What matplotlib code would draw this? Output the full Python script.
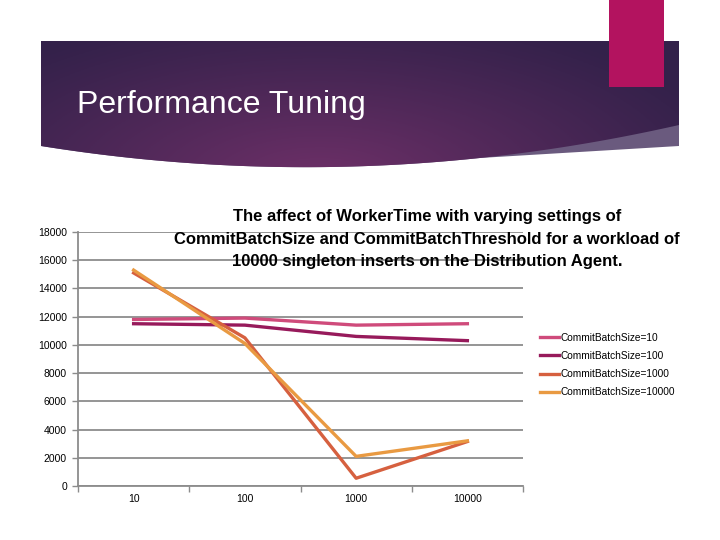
import numpy as np
import matplotlib
matplotlib.use("Agg")
import matplotlib.pyplot as plt
from matplotlib.patches import Polygon, Rectangle
from matplotlib.colors import to_rgb

plt.rcParams['font.family'] = ['Liberation Sans', 'DejaVu Sans']

# data
batch_threshold = ['10', '100', '1000', '10000']
size_10 = [11800, 11900, 11400, 11500]
size_100 = [11500, 11400, 10600, 10300]
size_1000 = [15100, 10500, 550, 3150]
size_10000 = [15300, 10100, 2100, 3200]
series_names = ['CommitBatchSize=10', 'CommitBatchSize=100',
                'CommitBatchSize=1000', 'CommitBatchSize=10000']
series_colors = ['#cf4b7b', '#971a5b', '#d6603f', '#e99a42']
y_ticks = list(range(0, 18001, 2000))

chart_title = ("The affect of WorkerTime with varying settings of\n"
               "CommitBatchSize and CommitBatchThreshold for a workload of\n"
               "10000 singleton inserts on the Distribution Agent.")

fig = plt.figure(figsize=(7.2, 5.4), dpi=100)

# slide background / header banner, in pixel coords
bg = fig.add_axes([0, 0, 1, 1])
bg.set_xlim(0, 720)
bg.set_ylim(540, 0)
bg.axis('off')

xs = np.linspace(41, 679, 120)
# lower edge of the dark banner: (41,146) -> (330,167) -> (679,125)
coef = np.polyfit([41, 330, 679], [146, 167, 125], 2)
dark_edge = np.polyval(coef, xs)
# lower edge of the lighter band on the right
band_edge = np.where(xs >= 330, 167 - 21 * (xs - 330) / (679 - 330), dark_edge)
band_edge = np.maximum(band_edge, dark_edge)

band = Polygon(list(zip(xs, band_edge)) + [(679, 41), (41, 41)],
               closed=True, facecolor='#6a5a7e', edgecolor='none', zorder=1)
bg.add_patch(band)

banner = Polygon([(41, 41), (679, 41)] + list(zip(xs[::-1], dark_edge[::-1])),
                 closed=True, facecolor='none', edgecolor='none')
bg.add_patch(banner)

gx, gy = np.meshgrid(np.linspace(41, 679, 320), np.linspace(41, 170, 70))
d = np.sqrt(((gx - 320) / 430) ** 2 + ((gy - 180) / 175) ** 2)
w = np.clip(1 - d, 0, 1) ** 1.1
c_in = np.array(to_rgb('#6e3068'))
c_out = np.array(to_rgb('#33214a'))
img = c_out + (c_in - c_out) * w[..., None]
im = bg.imshow(img, extent=(41, 679, 170, 41), aspect='auto', zorder=2)
im.set_clip_path(banner)

bg.add_patch(Rectangle((609, 0), 55, 87, facecolor='#b3135f',
                       edgecolor='none', zorder=3))
bg.text(77, 113, 'Performance Tuning', color='white', fontsize=23,
        va='baseline', ha='left', zorder=4)

# chart
ax = fig.add_axes([78 / 720, 1 - 486 / 540, (523 - 78) / 720, (486 - 232) / 540])
x = np.arange(len(batch_threshold))
for vals, name, col in zip([size_10, size_100, size_1000, size_10000],
                           series_names, series_colors):
    ax.plot(x, vals, color=col, lw=2.4, label=name)

ax.set_xlim(-0.5, len(batch_threshold) - 0.5)
ax.set_ylim(0, 18000)
ax.set_yticks(y_ticks)
ax.set_yticklabels([str(v) for v in y_ticks], fontsize=7.5)
ax.set_xticks(x)
ax.set_xticklabels(batch_threshold, fontsize=7.5)
ax.set_xticks(np.arange(len(batch_threshold) + 1) - 0.5, minor=True)
ax.tick_params(axis='x', which='major', length=0, pad=6)
ax.tick_params(axis='x', which='minor', length=4, color='#8c8c8c', width=1)
ax.tick_params(axis='y', length=4, color='#8c8c8c', width=1, pad=4)
ax.grid(axis='y', color='#8c8c8c', lw=1.3)
ax.set_axisbelow(True)
for s in ['top', 'right']:
    ax.spines[s].set_visible(False)
for s in ['left', 'bottom']:
    ax.spines[s].set_color('#8c8c8c')
    ax.spines[s].set_linewidth(1.3)

fig.text(427 / 720, 1 - 239 / 540, chart_title, ha='center', va='center',
         fontsize=12, fontweight='bold', linespacing=1.6)

fig.legend(loc='center left', bbox_to_anchor=(531 / 720, 1 - 365 / 540),
           frameon=False, fontsize=7.3, handlelength=1.9, handletextpad=0.15,
           labelspacing=0.8)

fig.savefig('out.png', dpi=100)
